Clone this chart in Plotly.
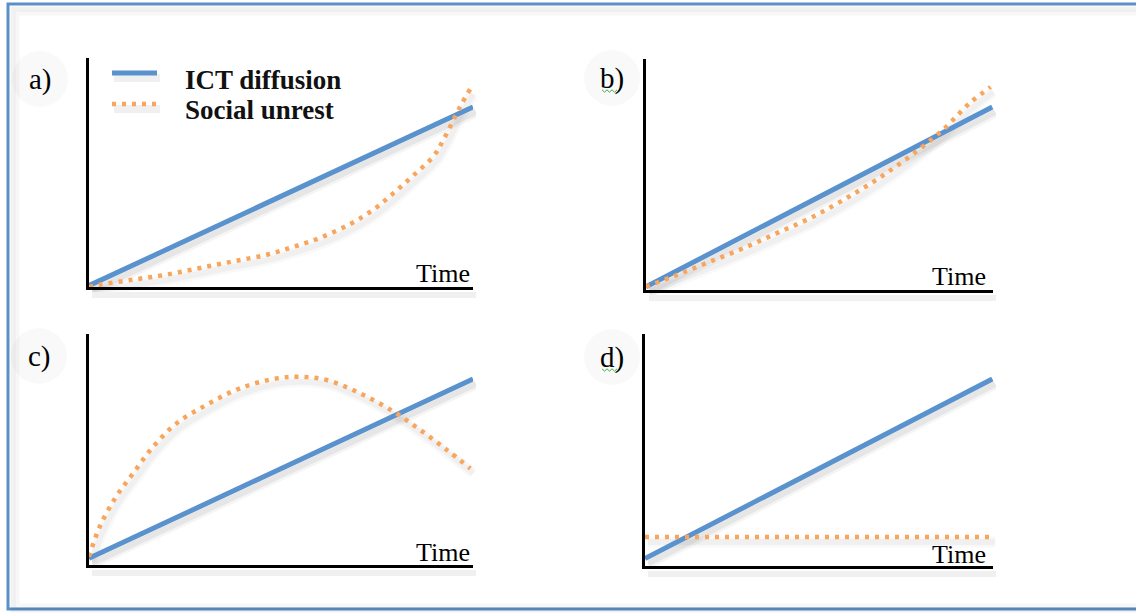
import plotly.graph_objects as go

W, H = 1136, 613

# ---------------- data (arbitrary 0-10 units) ----------------
panel_labels = ["a)", "b)", "c)", "d)"]
axis_label = "Time"
series_names = ["ICT diffusion", "Social unrest"]

# a) ICT linear, unrest exponential
a_ict_x = [0, 10]
a_ict_y = [0.06, 7.86]
a_unrest_x = [0, 0.28, 1.15, 2.02, 2.89, 3.76, 4.63, 5.32, 6.02, 6.80, 7.41, 7.93, 8.45, 8.97, 9.23, 9.67, 9.93]
a_unrest_y = [0, 0.10, 0.32, 0.54, 0.83, 1.12, 1.41, 1.75, 2.15, 2.75, 3.38, 4.10, 4.88, 5.71, 6.43, 7.89, 8.65]

# b) ICT linear, unrest slightly convex
b_ict_x = [0, 9.98]
b_ict_y = [0.14, 7.92]
b_unrest_x = [0, 0.89, 1.85, 2.81, 3.77, 4.73, 5.69, 6.64, 7.60, 8.56, 9.33, 9.93]
b_unrest_y = [0.14, 0.65, 1.23, 1.81, 2.46, 3.11, 3.90, 4.77, 5.78, 6.94, 8.09, 8.79]

# c) ICT linear, unrest inverted U
c_ict_x = [0, 10]
c_ict_y = [0.29, 8.05]
c_unrest_x = [0, 0.28, 0.71, 1.15, 1.67, 2.28, 3.06, 3.93, 4.89, 5.50, 6.19, 7.06, 7.93, 8.63, 9.32, 9.93]
c_unrest_y = [0.36, 1.66, 2.97, 3.97, 5.12, 6.13, 6.93, 7.65, 8.08, 8.15, 8.01, 7.43, 6.64, 5.84, 4.98, 4.18]

# d) ICT linear, unrest flat
d_ict_x = [0, 9.98]
d_ict_y = [0.32, 8.06]
d_unrest_x = [0, 9.98]
d_unrest_y = [1.25, 1.25]

# ---------------- styling ----------------
BLUE = "#5a92cd"
ORANGE = "#f8a55e"
FRAME = "#5b8fc8"
SERIF = "Liberation Serif, Times New Roman, serif"
DOT = "4px,6px"

# panel boxes in pixels: (left, right, top, bottom)
boxes = [(89, 473, 58, 287), (646, 993, 59, 290), (89, 473, 334, 565), (645, 993, 334, 566)]
label_pos = [(40, 79), (612, 78), (39, 356), (612, 357)]
panels = [
    (a_ict_x, a_ict_y, a_unrest_x, a_unrest_y),
    (b_ict_x, b_ict_y, b_unrest_x, b_unrest_y),
    (c_ict_x, c_ict_y, c_unrest_x, c_unrest_y),
    (d_ict_x, d_ict_y, d_unrest_x, d_unrest_y),
]
shapes_curve = ["spline", "spline", "spline", "linear"]


def px(x):
    return x / W


def py(y):
    return 1 - y / H


fig = go.Figure()
layout_axes = {}
SHX, SHY = 3, 5  # shadow offset in px

for i, (box, data) in enumerate(zip(boxes, panels)):
    l, r, t, b = box
    s = i + 1          # shadow subplot index
    m = i + 5          # main subplot index
    sx = "x" if s == 1 else f"x{s}"
    sy = "y" if s == 1 else f"y{s}"
    mx, my = f"x{m}", f"y{m}"
    sxk = "xaxis" if s == 1 else f"xaxis{s}"
    syk = "yaxis" if s == 1 else f"yaxis{s}"
    common = dict(range=[0, 10], showgrid=False, zeroline=False, showticklabels=False,
                  ticks="", fixedrange=True)
    layout_axes[sxk] = dict(common, domain=[px(l + SHX), px(r + SHX)], anchor=sy,
                            showline=True, linecolor="rgba(0,0,0,0.06)", linewidth=6)
    layout_axes[syk] = dict(common, domain=[py(b + SHY), py(t + SHY)], anchor=sx,
                            showline=False)
    layout_axes[f"xaxis{m}"] = dict(common, domain=[px(l), px(r)], anchor=my,
                                    showline=True, linecolor="black", linewidth=3)
    layout_axes[f"yaxis{m}"] = dict(common, domain=[py(b), py(t)], anchor=mx,
                                    showline=True, linecolor="black", linewidth=3)

    ix, iy, ux, uy = data
    shp = shapes_curve[i]
    # shadows
    for w, a in [(11, 0.04), (6, 0.06)]:
        fig.add_trace(go.Scatter(x=ux, y=uy, xaxis=sx, yaxis=sy, mode="lines",
                                 line=dict(color=f"rgba(0,0,0,{a * 0.6})", width=w, shape=shp),
                                 hoverinfo="skip", showlegend=False))
        fig.add_trace(go.Scatter(x=ix, y=iy, xaxis=sx, yaxis=sy, mode="lines",
                                 line=dict(color=f"rgba(0,0,0,{a})", width=w),
                                 hoverinfo="skip", showlegend=False))
    # main lines
    fig.add_trace(go.Scatter(x=ix, y=iy, xaxis=mx, yaxis=my, mode="lines", name=series_names[0],
                             line=dict(color=BLUE, width=5), showlegend=False))
    fig.add_trace(go.Scatter(x=ux, y=uy, xaxis=mx, yaxis=my, mode="lines", name=series_names[1],
                             line=dict(color=ORANGE, width=4.5, dash=DOT, shape=shp),
                             showlegend=False))

fig.update_layout(**layout_axes)

annotations = []
shapes = []

# frame
shapes.append(dict(type="rect", xref="paper", yref="paper", x0=px(8), x1=px(1142),
                   y0=py(609), y1=py(4), line=dict(color=FRAME, width=3), layer="below"))
for inset, a in [(5, 0.05), (9, 0.03)]:
    shapes.append(dict(type="rect", xref="paper", yref="paper", x0=px(8 + inset), x1=px(1160),
                       y0=py(609 - inset + 6), y1=py(4 + inset), line=dict(color=f"rgba(0,0,0,{a})", width=5),
                       layer="below"))

# panel labels with faint halo
for (cx, cy), lab in zip(label_pos, panel_labels):
    shapes.append(dict(type="circle", xref="paper", yref="paper", x0=px(cx - 28), x1=px(cx + 28),
                       y0=py(cy + 28), y1=py(cy - 28), fillcolor="rgba(0,0,0,0.025)",
                       line=dict(width=0), layer="below"))
    annotations.append(dict(text=lab, xref="paper", yref="paper", x=px(cx), y=py(cy),
                            xanchor="center", yanchor="middle", showarrow=False,
                            font=dict(family=SERIF, size=29, color="#000")))

# green spell-check squiggles under b) and d)
for cx, cy in [(609, 91), (609, 370)]:
    pts = []
    for k in range(7):
        pts.append(f"{'M' if k == 0 else 'L'}{px(cx - 7 + k * 2.5)},{py(cy + (1.2 if k % 2 else -1.2))}")
    shapes.append(dict(type="path", xref="paper", yref="paper", path=" ".join(pts),
                       line=dict(color="#3cb043", width=1)))

# Time labels
time_shift = [(-1, -3), (-5, -3), (-1, -4), (-5, -5)]
for i, (dx, dy) in enumerate(time_shift):
    m = i + 5
    annotations.append(dict(text=axis_label, xref=f"x{m} domain", yref=f"y{m} domain", x=1, y=0,
                            xanchor="right", yanchor="bottom", xshift=dx, yshift=dy,
                            showarrow=False, font=dict(family=SERIF, size=26, color="black")))

# legend (inside panel a)
leg = [(73, 80, BLUE, 5, "solid", series_names[0]), (104, 110, ORANGE, 4.5, DOT, series_names[1])]
for ly, ty, col, w, dash, name in leg:
    shapes.append(dict(type="line", xref="paper", yref="paper", x0=px(114), x1=px(160),
                       y0=py(ly + 5), y1=py(ly + 5), line=dict(color="rgba(0,0,0,0.06)", width=8)))
    shapes.append(dict(type="line", xref="paper", yref="paper", x0=px(112), x1=px(157),
                       y0=py(ly), y1=py(ly), line=dict(color=col, width=w, dash=dash)))
    annotations.append(dict(text=f"<b>{name}</b>", xref="paper", yref="paper", x=px(183), y=py(ty),
                            xanchor="left", yanchor="middle", showarrow=False,
                            font=dict(family=SERIF, size=27, color="#111")))

fig.update_layout(width=W, height=H, margin=dict(l=0, r=0, t=0, b=0),
                  paper_bgcolor="white", plot_bgcolor="rgba(0,0,0,0)",
                  showlegend=False, annotations=annotations, shapes=shapes)

fig.write_html("out.html", config={"displayModeBar": False},
               post_script="document.body.style.margin='0px';document.body.style.overflow='hidden';")
